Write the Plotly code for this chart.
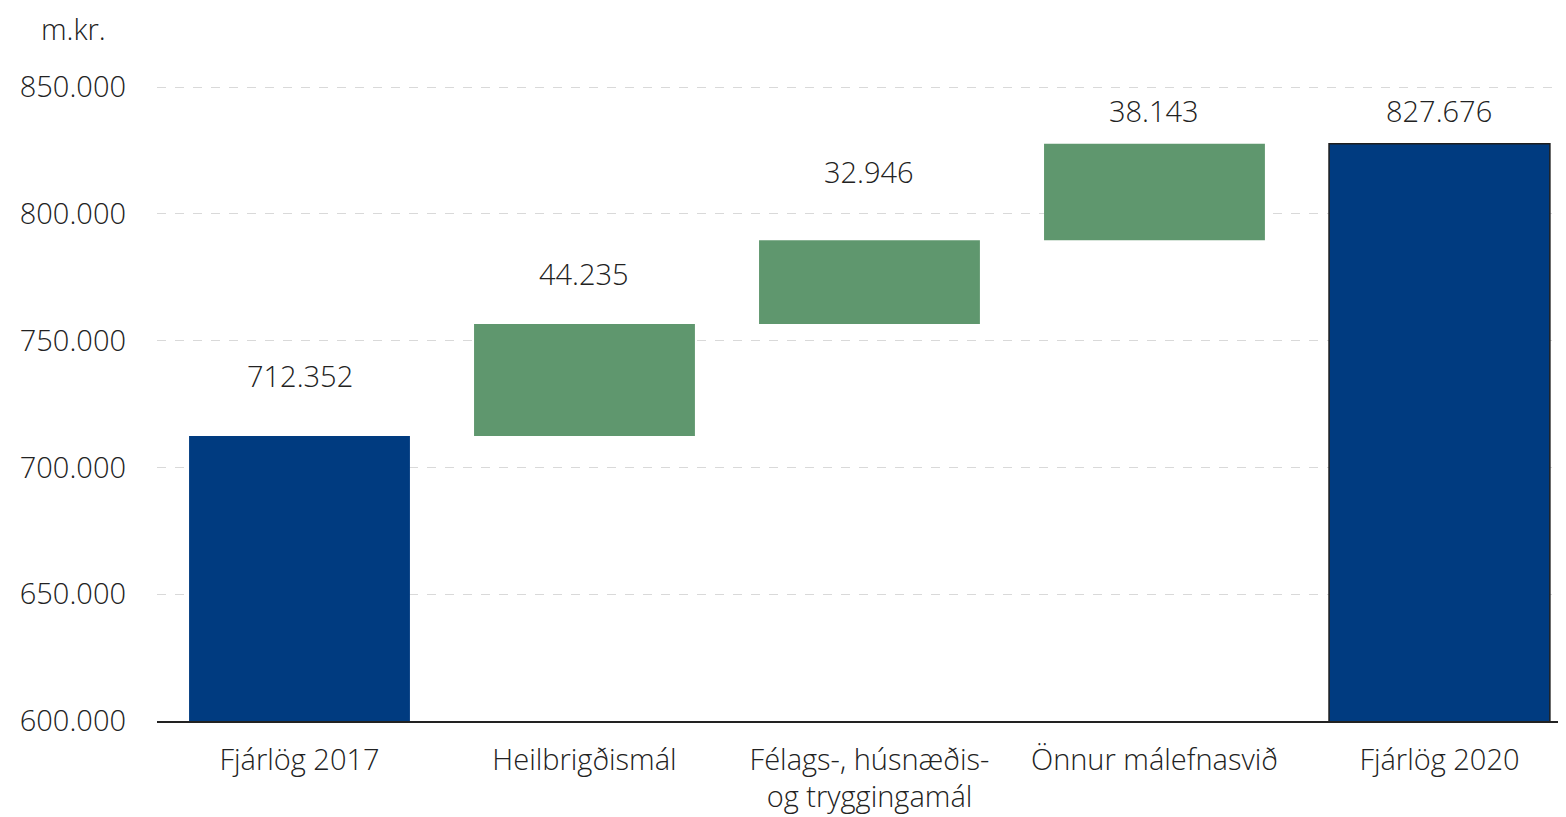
import numpy as np
import plotly.graph_objs as go

# Data (m.kr.)
categories = ['Fjárlög 2017', 'Heilbrigðismál', 'Félags-, húsnæðis-<br>og tryggingamál',
              'Önnur málefnasvið', 'Fjárlög 2020']
values = [712352, 44235, 32946, 38143, 827676]
kinds = ['total', 'step', 'step', 'step', 'total']
label_text = ['712.352', '44.235', '32.946', '38.143', '827.676']
label_shift = [61, 50, 69, 33, 33]      # px from bar top to label centre
yticks = [600000, 650000, 700000, 750000, 800000, 850000]

blue = 'rgb(0, 59, 128)'
green = 'rgb(95, 151, 110)'
FONT = 'Open Sans'
FS = 29

# bar bases from the running total
base = []
tops = []
run = 0
for v, k in zip(values, kinds):
    if k == 'total':
        base.append(0)
        run = v
    else:
        base.append(run)
        run = run + v
    tops.append(run)

colors = [blue if k == 'total' else green for k in kinds]
line_w = [0, 0, 0, 0, 1.5]

trace1 = go.Bar(
    x=categories,
    y=values,
    base=base,
    marker=dict(color=colors, line=dict(color='rgb(30, 30, 30)', width=line_w)),
    width=0.775,
    showlegend=False,
    hoverinfo='skip'
)

fig = go.Figure(data=[trace1])

for c, t, s, txt in zip(categories, tops, label_shift, label_text):
    fig.add_annotation(x=c, y=t, text=txt, showarrow=False, yanchor='middle',
                       yshift=s, font=dict(size=FS, color='#222'))

fig.add_annotation(x=-0.0836, y=1.091, xref='paper', yref='paper', text='m.kr.',
                   showarrow=False, xanchor='left', yanchor='middle',
                   font=dict(size=FS, color='#222'))

# page body has an 8px margin, so the figure is 8px smaller than the window;
# the last category runs past the right edge, as in the original
fig.update_layout(
    width=1558, height=809,
    margin=dict(l=149, r=0, t=78, b=96),
    plot_bgcolor='white', paper_bgcolor='white',
    separators=',.',
    font=dict(family=FONT, size=FS, color='#222', weight=300),
)
fig.update_xaxes(range=[-0.5, 4.444], showgrid=False, zeroline=False, showline=True,
                 linecolor='#222', linewidth=1.5, ticks='', tickfont=dict(size=FS),
                 automargin=False, ticklabelstandoff=12)
fig.update_yaxes(range=[600000, 850400], tickvals=yticks, tickformat=',d',
                 showgrid=True, gridcolor='#d9d9d9', griddash='dash', gridwidth=1,
                 zeroline=False, showline=False, ticks='', ticklabelstandoff=30,
                 tickfont=dict(size=FS), automargin=False)

fig.write_html('out.html')
